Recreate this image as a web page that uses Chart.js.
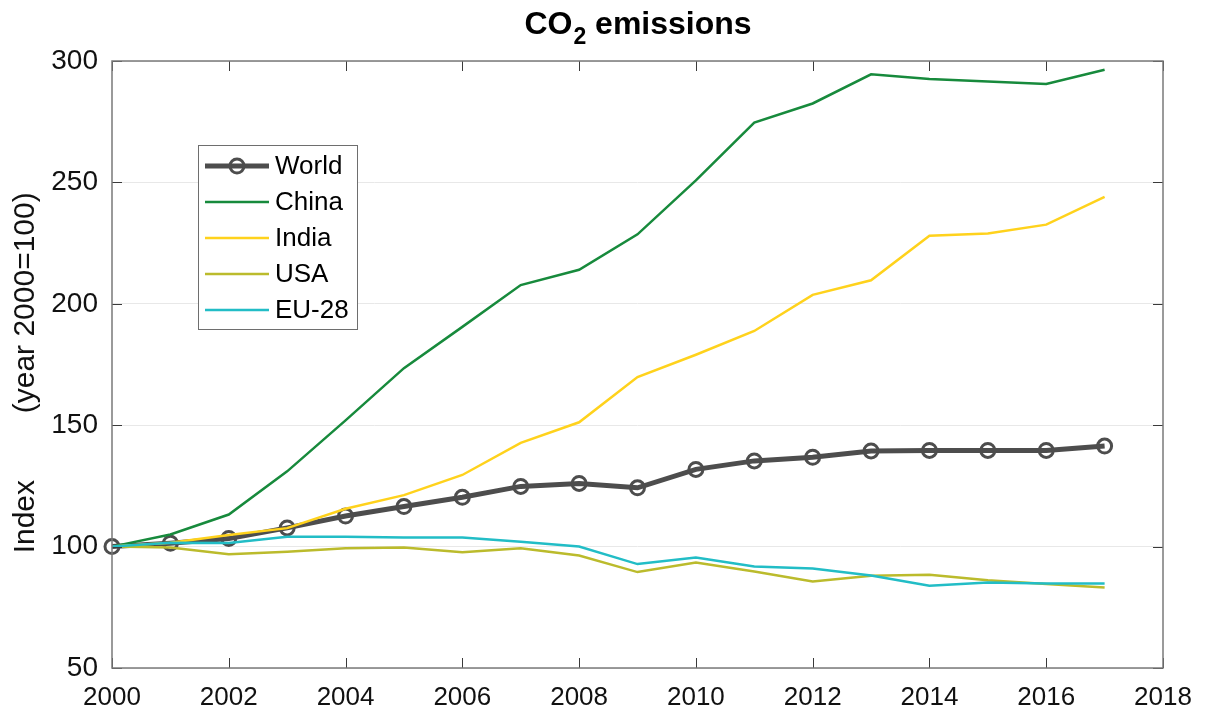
<!DOCTYPE html>
<html>
<head>
<meta charset="utf-8">
<title>CO2 emissions</title>
<script src="https://cdn.jsdelivr.net/npm/chart.js@4.4.1/dist/chart.umd.min.js"></script>
<style>
  html, body { margin: 0; padding: 0; background: #fff; }
  #wrap { position: relative; width: 1207px; height: 717px; }
</style>
</head>
<body>
<div id="wrap"><canvas id="chart" width="1207" height="717"></canvas></div>
<script>
// Emission index per year (2000 = 100)
const years = [2000, 2001, 2002, 2003, 2004, 2005, 2006, 2007, 2008, 2009, 2010, 2011, 2012, 2013, 2014, 2015, 2016, 2017];
const world = [100, 101.4, 103.3, 107.7, 112.6, 116.5, 120.3, 124.8, 126.0, 124.2, 131.8, 135.3, 136.8, 139.4, 139.6, 139.6, 139.6, 141.4];
const china = [100, 105.0, 113.2, 131.0, 152.0, 173.5, 190.5, 207.7, 214.0, 228.6, 250.8, 274.6, 282.5, 294.5, 292.6, 291.6, 290.5, 296.4];
const india = [100, 101.6, 104.8, 107.6, 115.6, 121.2, 129.5, 142.7, 151.2, 169.8, 179.0, 188.8, 203.7, 209.7, 228.0, 229.0, 232.6, 244.0];
const usa = [100, 99.6, 96.9, 97.9, 99.3, 99.6, 97.7, 99.3, 96.3, 89.5, 93.4, 89.7, 85.6, 88.0, 88.4, 86.1, 84.6, 83.2];
const eu28 = [100, 101.6, 101.5, 104.1, 104.1, 103.7, 103.7, 102.0, 100.0, 92.8, 95.5, 91.8, 91.0, 88.1, 83.9, 85.2, 84.8, 84.8];

const xTicks = [2000, 2002, 2004, 2006, 2008, 2010, 2012, 2014, 2016, 2018];
const yTicks = [50, 100, 150, 200, 250, 300];

const COLORS = {
  world: '#4d4d4d',
  china: '#178a3c',
  india: '#ffd21c',
  usa: '#bbbb2c',
  eu: '#22bdc6',
};

const FONT = '"Liberation Sans", Arial, Helvetica, sans-serif';

const toPoints = (arr) => arr.map((v, i) => ({ x: years[i], y: v }));

const series = [
  { label: 'World', data: world, color: COLORS.world, width: 5, marker: true },
  { label: 'China', data: china, color: COLORS.china, width: 2.5 },
  { label: 'India', data: india, color: COLORS.india, width: 2.5 },
  { label: 'USA', data: usa, color: COLORS.usa, width: 2.5 },
  { label: 'EU-28', data: eu28, color: COLORS.eu, width: 2.5 },
];

// Title with a subscript "2"
const titlePlugin = {
  id: 'subTitle',
  afterDraw(chart) {
    const { ctx, chartArea } = chart;
    const cx = (chartArea.left + chartArea.right) / 2;
    const big = 'bold 32px ' + FONT;
    const small = 'bold 23px ' + FONT;
    ctx.save();
    ctx.fillStyle = '#000';
    ctx.textBaseline = 'alphabetic';
    ctx.font = big;
    const w1 = ctx.measureText('CO').width;
    const w3 = ctx.measureText(' emissions').width;
    ctx.font = small;
    const w2 = ctx.measureText('2').width;
    let x = cx - (w1 + w2 + w3) / 2;
    const base = 34;
    ctx.font = big;
    ctx.fillText('CO', x, base);
    x += w1;
    ctx.font = small;
    ctx.fillText('2', x + 1, base + 10);
    x += w2 + 1;
    ctx.font = big;
    ctx.fillText(' emissions', x, base);
    ctx.restore();
  }
};

// Box around the plot with inward tick marks on all four sides
const framePlugin = {
  id: 'frame',
  afterDatasetsDraw(chart) {
    const { ctx, chartArea: a, scales } = chart;
    const len = 10;
    ctx.save();
    ctx.lineWidth = 1;
    ctx.strokeStyle = '#3a3a3a';
    ctx.beginPath();
    xTicks.forEach(t => {
      const px = Math.round(scales.x.getPixelForValue(t)) + 0.5;
      ctx.moveTo(px, a.bottom); ctx.lineTo(px, a.bottom - len);
      ctx.moveTo(px, a.top); ctx.lineTo(px, a.top + len);
    });
    yTicks.forEach(t => {
      const py = Math.round(scales.y.getPixelForValue(t)) + 0.5;
      ctx.moveTo(a.left, py); ctx.lineTo(a.left + len, py);
      ctx.moveTo(a.right, py); ctx.lineTo(a.right - len, py);
    });
    ctx.stroke();
    ctx.strokeStyle = '#7a7a7a';
    ctx.lineWidth = 1.5;
    ctx.strokeRect(a.left, a.top, a.right - a.left, a.bottom - a.top);
    ctx.restore();
  }
};

// Legend box in the upper left of the plot
const legendPlugin = {
  id: 'boxLegend',
  afterDraw(chart) {
    const { ctx } = chart;
    const box = { x: 198, y: 145, w: 159, h: 184 };
    const rowY0 = 166, rowStep = 36;
    ctx.save();
    ctx.fillStyle = '#fff';
    ctx.fillRect(box.x, box.y, box.w, box.h);
    ctx.strokeStyle = '#6e6e6e';
    ctx.lineWidth = 1;
    ctx.strokeRect(box.x + 0.5, box.y + 0.5, box.w, box.h);
    ctx.font = '26px ' + FONT;
    ctx.textBaseline = 'middle';
    series.forEach((s, i) => {
      const y = rowY0 + i * rowStep;
      ctx.strokeStyle = s.color;
      ctx.lineWidth = s.width;
      ctx.beginPath();
      ctx.moveTo(205, y); ctx.lineTo(269, y);
      ctx.stroke();
      if (s.marker) {
        ctx.lineWidth = 3;
        ctx.beginPath();
        ctx.arc(237, y, 7, 0, Math.PI * 2);
        ctx.stroke();
      }
      ctx.fillStyle = '#000';
      ctx.fillText(s.label, 275, y + 1);
    });
    ctx.restore();
  }
};

const datasets = series.map((s, i) => ({
  label: s.label,
  data: toPoints(s.data),
  borderColor: s.color,
  backgroundColor: s.color,
  borderWidth: s.width,
  pointRadius: s.marker ? 7 : 0,
  pointBorderWidth: s.marker ? 3 : 0,
  pointBackgroundColor: 'rgba(0,0,0,0)',
  pointBorderColor: s.color,
  tension: 0,
  fill: false,
  clip: false,
  order: series.length - 1 - i, // later series draw on top
}));

new Chart(document.getElementById('chart').getContext('2d'), {
  type: 'line',
  data: { datasets },
  options: {
    responsive: false,
    animation: false,
    events: [],
    layout: { padding: { left: 0, right: 44, top: 61, bottom: 0 } },
    plugins: {
      legend: { display: false },
      title: { display: false },
      tooltip: { enabled: false },
    },
    scales: {
      x: {
        type: 'linear',
        min: 2000,
        max: 2018,
        afterBuildTicks: (scale) => { scale.ticks = xTicks.map(v => ({ value: v })); },
        afterFit: (scale) => { scale.height = 49; },
        grid: { display: false, drawTicks: false },
        border: { display: false },
        ticks: {
          padding: 14,
          color: '#111',
          font: { family: FONT, size: 26 },
          callback: (v) => String(v),
          maxRotation: 0,
        },
      },
      y: {
        type: 'linear',
        min: 50,
        max: 300,
        afterBuildTicks: (scale) => { scale.ticks = yTicks.map(v => ({ value: v })); },
        afterFit: (scale) => { scale.width = 112; },
        grid: { color: '#e8e8e8', lineWidth: 1, drawTicks: false },
        border: { display: false },
        ticks: {
          padding: 14,
          color: '#111',
          font: { family: FONT, size: 28 },
          callback: (v) => String(v),
        },
        title: {
          display: true,
          text: 'Index        (year 2000=100)  ',
          color: '#111',
          font: { family: FONT, size: 30 },
          padding: { top: 8, bottom: 0 },
        },
      },
    },
  },
  plugins: [titlePlugin, framePlugin, legendPlugin],
});
</script>
</body>
</html>
